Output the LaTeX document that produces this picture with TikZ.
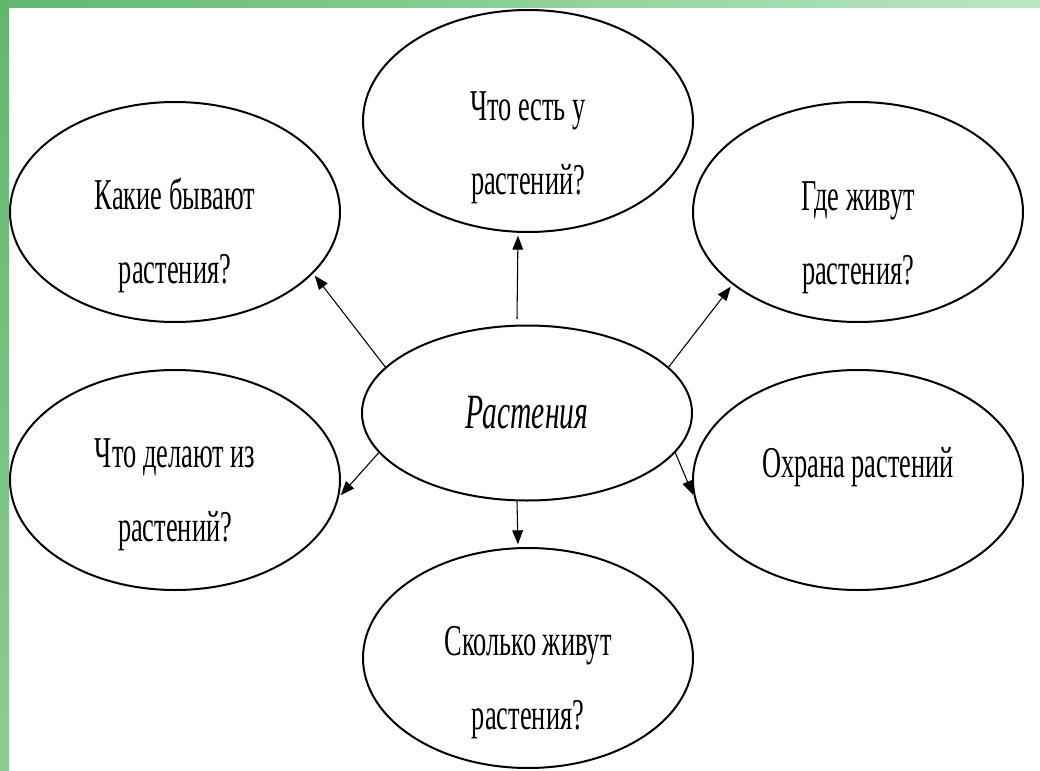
\documentclass[tikz,border=0pt]{standalone}
\usepackage{fontspec}
\setmainfont{Liberation Serif}[FakeStretch=0.6]
\usetikzlibrary{shapes.geometric,arrows.meta}
\definecolor{gdark}{HTML}{60B86C}
\definecolor{gmid}{HTML}{8DCC94}
\definecolor{glight}{HTML}{BAE8C2}
\tikzset{
  oval/.style={ellipse, draw=black, line width=1.5pt, inner sep=0pt,
    minimum width=247.5pt, minimum height=165pt},
  lbl/.style={anchor=base, align=center, inner sep=0pt,
    font=\fontsize{33}{55.5}\selectfont},
  arr/.style={-{Triangle[length=10.5pt,width=8pt]}, line width=0.8pt, shorten >=2pt}
}
\begin{document}
\begin{tikzpicture}[x=0.75pt,y=-0.75pt]
\useasboundingbox (0,0) rectangle (1040,771);
\fill[white] (0,0) rectangle (1040,771);
% green frame
\shade[top color=gdark, bottom color=gmid, draw=none] (0,0) rectangle (9,771);
\shade[left color=gdark, right color=glight, draw=none] (0,0) rectangle (1040,7);
% ellipses
\node[oval, minimum height=166.5pt] (t) at (528,121) {};
\node[oval] (ul) at (175,212) {};
\node[oval] (ur) at (858,212) {};
\node[oval, minimum height=131.25pt] (c) at (527,413) {};
\node[oval] (ll) at (175,480) {};
\node[oval] (lr) at (858,480) {};
\node[oval] (b) at (528,658) {};
% labels (base = baseline of the last line)
\node[lbl] (tt) at (528,194) {Что есть у\\растений?};
\node[lbl] (tul) at (175,283) {Какие бывают\\растения?};
\node[lbl] (tur) at (858,284) {Где живут\\растения?};
\node[lbl, font=\fontsize{37}{44}\selectfont\itshape] (tc) at (527,428) {Растения};
\node[lbl] (tll) at (175,541) {Что делают из\\растений?};
\node[lbl] (tlr) at (858,477) {Охрана растений};
\node[lbl] (tb) at (528,729) {Сколько живут\\растения?};
% connectors
\draw[arr] ([xshift=-7.5pt,yshift=4pt]c.north) -- ([xshift=-7.5pt]t.south);
\draw[arr] ([xshift=-7.5pt]c.south) -- ([xshift=-7.5pt]b.north);
\draw[arr] (c.162) -- (ul.-24);
\draw[arr] (c.18) -- (ur.210);
\draw[arr] (c.195) -- (ll.-6);
\draw[arr] (c.-15) -- (lr.186);
\end{tikzpicture}
\end{document}
